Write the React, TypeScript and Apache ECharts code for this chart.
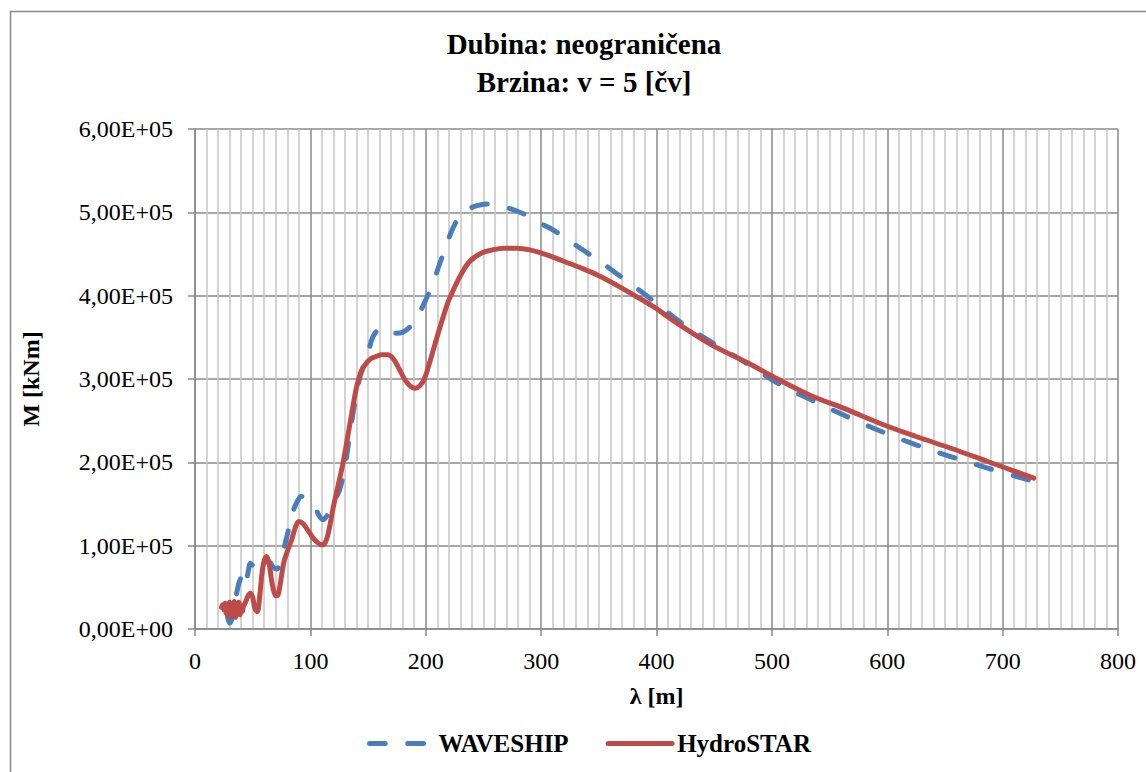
import React, { useEffect, useRef } from "react";
import * as echarts from "echarts";

const titleLines = ["Dubina: neograničena", "Brzina: v = 5 [čv]"];
const xAxisTitle = "λ [m]";
const yAxisTitle = "M [kNm]";
const seriesNames = ["WAVESHIP", "HydroSTAR"];

const waveLambda = [
  28, 30, 32, 34, 36, 38, 40, 42, 44, 46, 48, 50, 53, 56, 59, 62, 65, 68, 71, 74,
  77, 80, 83, 86, 89, 92, 96, 100, 104, 108, 111, 114, 118, 122, 126, 130, 134, 138, 142, 146,
  150, 154, 158, 163, 168, 174, 180, 186, 192, 197, 202, 207, 212, 217, 222, 227, 233, 240, 248, 256,
  264, 272, 280, 288, 295, 302, 309, 316, 322, 335, 350, 365, 380, 396, 420, 449, 478, 505, 534, 565,
  595, 625, 657, 687, 727,
];
const waveM = [
  16000, 7000, 12000, 25000, 42000, 55000, 62000, 67000, 56000, 68000, 79000, 76000, 70000, 69000, 75000, 81000, 80000, 74000, 72000, 80000,
  96000, 113000, 130000, 145000, 154000, 159000, 158000, 153000, 146000, 135000, 131000, 135000, 145000, 156000, 170000, 195000, 232000, 268000, 297000, 316000,
  332000, 350000, 358000, 362000, 359000, 355000, 356000, 362000, 373000, 386000, 401000, 418000, 438000, 457000, 476000, 490000, 500000, 506000, 509000, 510000,
  508000, 505000, 501000, 496000, 490000, 485000, 480000, 474000, 468000, 456000, 442000, 427000, 412000, 395000, 369000, 343000, 319000, 295000, 275000, 255000,
  237000, 221000, 206000, 193000, 177000,
];

const hydroLambda = [
  23, 24, 25, 26, 27, 28, 29, 30, 31, 32, 33, 34, 35, 36, 37, 38, 39, 40, 41, 42,
  44, 46, 48, 50, 52, 54, 56, 58, 60, 62, 64, 66, 68, 70, 72, 74, 77, 80, 84, 87,
  90, 94, 98, 102, 106, 110, 113, 116, 120, 124, 128, 132, 136, 140, 144, 148, 152, 157, 162, 167,
  172, 177, 182, 187, 191, 195, 199, 203, 207, 211, 215, 219, 224, 230, 238, 248, 258, 268, 279, 290,
  305, 320, 335, 350, 365, 380, 396, 420, 449, 478, 505, 534, 562, 595, 625, 657, 687, 727,
];
const hydroM = [
  26000, 29000, 23000, 31000, 19000, 30000, 16000, 32000, 15000, 30000, 20000, 33000, 14000, 29000, 21000, 32000, 17000, 28000, 21000, 27000,
  33000, 40000, 43000, 38000, 24000, 21000, 38000, 66000, 82000, 87000, 80000, 62000, 47000, 40000, 41000, 55000, 80000, 93000, 108000, 122000,
  129000, 126000, 118000, 110000, 104000, 101000, 104000, 118000, 147000, 172000, 197000, 228000, 260000, 290000, 309000, 318000, 324000, 327000, 329000, 329000,
  324000, 312000, 299000, 291000, 289000, 292000, 301000, 318000, 337000, 356000, 374000, 391000, 407000, 424000, 441000, 451000, 455000, 457000, 457000, 455000,
  449000, 441000, 433000, 424000, 413000, 401000, 388000, 365000, 340000, 320000, 300000, 280000, 265000, 246000, 231000, 216000, 201000, 181000,
];

const xMin = 0;
const xMax = 800;
const xStep = 100;
const yMin = 0;
const yMax = 600000;
const yStep = 100000;

const FONT = "'Liberation Serif', 'Times New Roman', serif";
const BLUE = "#4A7EBB";
const RED = "#BE4B48";
const MAJOR = "#898989";
const MINOR = "#c4c4c4";

function sci(v: number): string {
  if (v === 0) return "0,00E+00";
  const e = Math.floor(Math.log10(Math.abs(v)) + 1e-9);
  const m = v / Math.pow(10, e);
  const sign = e >= 0 ? "+" : "-";
  return m.toFixed(2).replace(".", ",") + "E" + sign + String(Math.abs(e)).padStart(2, "0");
}

export default function App() {
  const ref = useRef<HTMLDivElement>(null);
  useEffect(() => {
    if (!ref.current) return;
    const chart = echarts.init(ref.current, undefined, { renderer: "svg" });
    const wave = waveLambda.map((x, i) => [x, waveM[i]]);
    const hydro = hydroLambda.map((x, i) => [x, hydroM[i]]);
    chart.setOption({
      animation: false,
      backgroundColor: "#ffffff",
      textStyle: { fontFamily: FONT },
      title: {
        text: titleLines.join("\n"),
        left: 584,
        textAlign: "center",
        top: 25,
        padding: 0,
        textStyle: {
          fontFamily: FONT,
          fontSize: 29,
          fontWeight: "bold",
          color: "#000",
          lineHeight: 38,
        },
      },
      grid: { left: 195, top: 129, right: 28, bottom: 143, containLabel: false },
      legend: {
        left: 362,
        top: 726,
        itemWidth: 64,
        itemHeight: 14,
        itemGap: 37,
        itemStyle: { opacity: 0 },
        lineStyle: { width: 5, cap: "round" },
        textStyle: { fontFamily: FONT, fontSize: 25, fontWeight: "bold", color: "#000" },
        data: seriesNames,
      },
      xAxis: {
        type: "value",
        min: xMin,
        max: xMax,
        interval: xStep,
        name: xAxisTitle,
        nameLocation: "middle",
        nameGap: 55,
        nameTextStyle: { fontFamily: FONT, fontSize: 24, fontWeight: "bold", color: "#000" },
        axisLine: { show: true, lineStyle: { color: MAJOR, width: 1.5 } },
        axisTick: { show: true, inside: false, length: 7, lineStyle: { color: MAJOR, width: 1.5 } },
        axisLabel: { fontFamily: FONT, fontSize: 24, color: "#000", margin: 20 },
        splitLine: { show: true, lineStyle: { color: MAJOR, width: 1.5 } },
        minorTick: { show: false, splitNumber: 10 },
        minorSplitLine: { show: true, lineStyle: { color: MINOR, width: 1.5 } },
      },
      yAxis: {
        type: "value",
        min: yMin,
        max: yMax,
        interval: yStep,
        name: yAxisTitle,
        nameLocation: "middle",
        nameGap: 152,
        nameTextStyle: { fontFamily: FONT, fontSize: 24, fontWeight: "bold", color: "#000" },
        axisLine: { show: true, lineStyle: { color: MAJOR, width: 1.5 } },
        axisTick: { show: true, inside: false, length: 7, lineStyle: { color: MAJOR, width: 1.5 } },
        axisLabel: { fontFamily: FONT, fontSize: 24, color: "#000", margin: 22, formatter: sci },
        splitLine: { show: true, lineStyle: { color: MAJOR, width: 1.5 } },
      },
      graphic: [
        {
          type: "rect",
          shape: { x: 10.5, y: 11.5, width: 1200, height: 800 },
          style: { fill: "none", stroke: MAJOR, lineWidth: 1.5 },
          silent: true,
        },
      ],
      series: [
        {
          name: seriesNames[0],
          type: "line",
          data: wave,
          showSymbol: false,
          symbol: "none",
          smooth: 0.35,
          color: BLUE,
          lineStyle: { color: BLUE, width: 5, type: [15.7, 22.6], cap: "round", join: "round" },
          z: 2,
        },
        {
          name: seriesNames[1],
          type: "line",
          data: hydro,
          showSymbol: false,
          symbol: "none",
          smooth: 0.35,
          color: RED,
          lineStyle: { color: RED, width: 5, cap: "round", join: "round" },
          z: 3,
        },
      ],
    });
    return () => chart.dispose();
  }, []);
  return (
    <div
      ref={ref}
      style={{ position: "fixed", left: 0, top: 0, width: 1146, height: 772, background: "#fff" }}
    />
  );
}
